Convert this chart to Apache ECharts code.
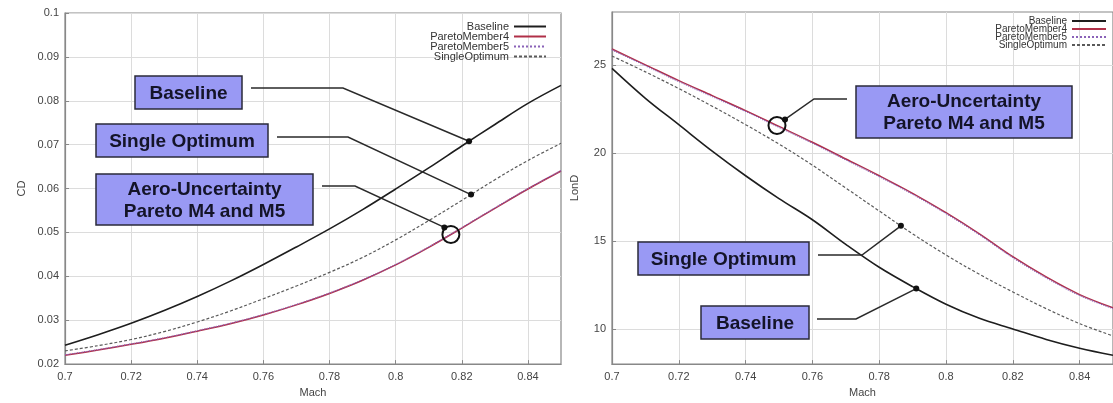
<!DOCTYPE html>
<html><head><meta charset="utf-8">
<script src="https://cdn.jsdelivr.net/npm/echarts@6/dist/echarts.min.js"></script>
<style>html,body{margin:0;padding:0;background:#fff}#c{width:1113px;height:403px}</style>
</head><body><div id="c"></div>
<script>
// ---- data ----
const mach = [0.70,0.71,0.72,0.73,0.74,0.75,0.76,0.77,0.78,0.79,0.80,0.81,0.82,0.83,0.84,0.85];
const seriesNames = ['Baseline','ParetoMember4','ParetoMember5','SingleOptimum'];
const cdBaseline = [0.0243,0.0267,0.0293,0.0322,0.0354,0.0389,0.0427,0.0467,0.0508,0.0552,0.0599,0.0647,0.0697,0.0746,0.0794,0.0835];
const cdPareto4  = [0.0220,0.0232,0.0245,0.0259,0.0275,0.0292,0.0312,0.0335,0.0361,0.0391,0.0426,0.0466,0.0510,0.0555,0.0599,0.0640];
const cdPareto5  = [0.0221,0.0233,0.0246,0.0260,0.0276,0.0293,0.0313,0.0336,0.0362,0.0392,0.0427,0.0467,0.0511,0.0556,0.0600,0.0641];
const cdSingle   = [0.0230,0.0242,0.0256,0.0274,0.0296,0.0321,0.0349,0.0378,0.0409,0.0443,0.0483,0.0527,0.0573,0.0620,0.0664,0.0703];
const ldBaseline = [24.8,23.1,21.6,20.1,18.7,17.4,16.2,14.8,13.5,12.4,11.4,10.6,10.0,9.4,8.9,8.5];
const ldPareto4  = [25.9,25.0,24.1,23.25,22.4,21.5,20.6,19.65,18.7,17.7,16.6,15.4,14.1,12.95,11.95,11.2];
const ldPareto5  = [25.85,24.95,24.05,23.2,22.35,21.45,20.55,19.6,18.65,17.65,16.55,15.35,14.05,12.9,11.9,11.15];
const ldSingle   = [25.5,24.6,23.65,22.65,21.6,20.5,19.3,18.0,16.7,15.4,14.2,13.1,12.1,11.15,10.3,9.6];
const machTicks = [0.7,0.72,0.74,0.76,0.78,0.8,0.82,0.84];
const cdTicks = [0.02,0.03,0.04,0.05,0.06,0.07,0.08,0.09,0.1];
const ldTicks = [10,15,20,25];

const FONT = '"Liberation Sans", Arial, sans-serif';
const styles = {
  Baseline:      {color:'#1e1e1e', width:1.6, type:'solid'},
  ParetoMember4: {color:'#b03048', width:1.5, type:'solid'},
  ParetoMember5: {color:'#8a62b8', width:1.2, type:'dotted'},
  SingleOptimum: {color:'#5a5a5a', width:1.2, type:[3,2]}
};

const chart = echarts.init(document.getElementById('c'));

function xAxisCfg(gi, gap){
  return {gridIndex:gi, type:'value', min:0.7, max:0.85, name:'Mach', nameLocation:'middle', nameGap:gap,
    nameTextStyle:{fontFamily:FONT, fontSize:11, color:'#444'},
    axisLine:{lineStyle:{color:'#888', width:1.2}},
    axisTick:{inside:true, length:4, customValues:machTicks, lineStyle:{color:'#888'}},
    axisLabel:{customValues:machTicks, fontFamily:FONT, fontSize:11, color:'#444', margin:7},
    splitLine:{show:true, lineStyle:{color:'#dcdcdc', width:1}}};
}
function yAxisCfg(gi, name, min, max, ticks, gap){
  return {gridIndex:gi, type:'value', min:min, max:max, name:name, nameLocation:'middle', nameRotate:90, nameGap:gap,
    nameTextStyle:{fontFamily:FONT, fontSize:11, color:'#444'},
    axisLine:{show:true, lineStyle:{color:'#888', width:1.2}},
    axisTick:{show:true, inside:true, length:4, customValues:ticks, lineStyle:{color:'#888'}},
    axisLabel:{customValues:ticks, fontFamily:FONT, fontSize:11, color:'#444', margin:6},
    splitLine:{show:true, lineStyle:{color:'#dcdcdc', width:1}}};
}
function mkSeries(name, ys, gi){
  const s = styles[name];
  return {name:name, type:'line', xAxisIndex:gi, yAxisIndex:gi, showSymbol:false, symbol:'none',
    smooth:0.35, silent:true,
    lineStyle:{color:s.color, width:s.width, type:s.type}, itemStyle:{color:s.color},
    data: mach.map((m,i)=>[m, ys[i]])};
}
const leftData = {Baseline:cdBaseline, ParetoMember4:cdPareto4, ParetoMember5:cdPareto5, SingleOptimum:cdSingle};
const rightData = {Baseline:ldBaseline, ParetoMember4:ldPareto4, ParetoMember5:ldPareto5, SingleOptimum:ldSingle};

const series = [];
seriesNames.forEach(n=>series.push(mkSeries(n, leftData[n], 0)));
seriesNames.forEach(n=>series.push(mkSeries(n, rightData[n], 1)));

chart.setOption({
  animation:false,
  backgroundColor:'#fff',
  grid:[
    {left:65, top:13, width:496, height:352, show:true, borderColor:'#888', borderWidth:1.2},
    {left:612, top:12, width:509, height:355, show:true, borderColor:'#888', borderWidth:1.2}
  ],
  xAxis:[xAxisCfg(0, 22), xAxisCfg(1, 20)],
  yAxis:[yAxisCfg(0,'CD',0.02,0.1,cdTicks,38), yAxisCfg(1,'LonD',8,28,ldTicks,32)],
  legend:[
    {data:seriesNames, orient:'vertical', align:'right', right:566, top:21, padding:0, itemWidth:32, itemHeight:2, itemGap:-1,
     itemStyle:{opacity:0}, selectedMode:false, textStyle:{fontFamily:FONT, fontSize:11, color:'#333', lineHeight:11}},
    {data:seriesNames, orient:'vertical', align:'right', right:6, top:16, padding:0, itemWidth:34, itemHeight:2, itemGap:-2,
     itemStyle:{opacity:0}, selectedMode:false, textStyle:{fontFamily:FONT, fontSize:10, color:'#333', lineHeight:10}}
  ],
  series:series
});

// ---- annotations ----
function interp(xs, ys, x){
  for(let i=0;i<xs.length-1;i++){
    if(x>=xs[i] && x<=xs[i+1]){const t=(x-xs[i])/(xs[i+1]-xs[i]); return ys[i]+t*(ys[i+1]-ys[i]);}
  }
  return ys[ys.length-1];
}
function px(gi, m, ys){ return chart.convertToPixel({gridIndex:gi}, [m, interp(mach, ys, m)]); }

const BOX_FILL = '#9999f4';
const g = [];
function box(x,y,w,h,text){
  g.push({type:'rect', shape:{x:x,y:y,width:w,height:h}, style:{fill:BOX_FILL, stroke:'#2a2a3a', lineWidth:1.5}, z:10});
  g.push({type:'text', x:x+w/2, y:y+h/2+1, style:{text:text, font:'bold 19px '+FONT, fill:'#141428', align:'center', verticalAlign:'middle', lineHeight:22}, z:11});
}
function leader(points){
  g.push({type:'polyline', shape:{points:points}, style:{stroke:'#2a2a2a', lineWidth:1.5, fill:null}, z:12});
  const e = points[points.length-1];
  g.push({type:'circle', shape:{cx:e[0], cy:e[1], r:3}, style:{fill:'#111'}, z:13});
}
function ring(c){ g.push({type:'circle', shape:{cx:c[0], cy:c[1], r:8.5}, style:{fill:null, stroke:'#111', lineWidth:2}, z:13}); }

// left chart
let p = px(0, 0.8222, cdBaseline);
box(135,76,107,33,'Baseline'); leader([[251,88],[343,88],p]);
p = px(0, 0.8228, cdSingle);
box(96,124,172,33,'Single Optimum'); leader([[277,137],[348,137],p]);
let c = px(0, 0.8167, cdPareto4);
box(96,174,217,51,'Aero-Uncertainty\nPareto M4 and M5'); leader([[322,186],[355,186],[c[0]-6.5,c[1]-7]]); ring(c);
// right chart
c = px(1, 0.7494, ldPareto4);
box(856,86,216,52,'Aero-Uncertainty\nPareto M4 and M5'); leader([[847,99],[814,99],[c[0]+8,c[1]-6]]); ring(c);
p = px(1, 0.7865, ldSingle);
box(638,242,171,33,'Single Optimum'); leader([[818,255],[862,255],p]);
p = px(1, 0.7911, ldBaseline);
box(701,306,108,33,'Baseline'); leader([[817,319],[856,319],p]);

chart.setOption({graphic:g});
</script></body></html>
